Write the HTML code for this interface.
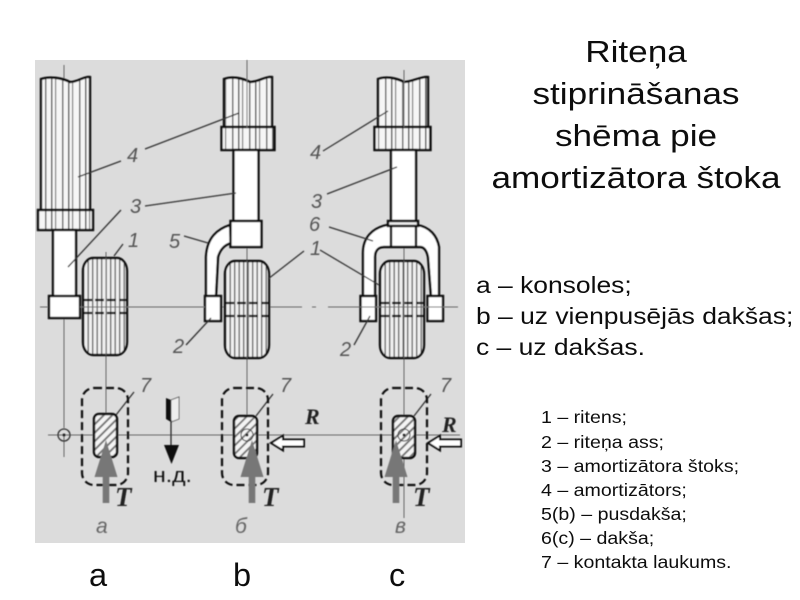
<!DOCTYPE html>
<html><head><meta charset="utf-8"><style>
html,body{margin:0;padding:0;background:#fff;width:800px;height:600px;overflow:hidden}
svg{display:block}
.s{font-family:"Liberation Sans",sans-serif;fill:#111}
.n{font-family:"Liberation Sans",sans-serif;font-style:italic;fill:#555;font-size:20px}
.t{font-family:"Liberation Serif",serif;font-style:italic;font-weight:bold;fill:#222;font-size:27px}
</style></head><body>
<svg width="800" height="600" viewBox="0 0 800 600" xmlns="http://www.w3.org/2000/svg">
<defs>
<filter id="b" x="-2%" y="-2%" width="104%" height="104%"><feGaussianBlur stdDeviation="0.45"/></filter>
<filter id="bt" x="-2%" y="-2%" width="104%" height="104%"><feGaussianBlur stdDeviation="0.3"/></filter>
<pattern id="v" width="17" height="10" patternUnits="userSpaceOnUse"><rect width="17" height="10" fill="#f6f6f6"/><rect x="0" width="1.500" height="10" fill="#555"/><rect x="4" width="1.200" height="10" fill="#777"/><rect x="11" width="1.500" height="10" fill="#666"/></pattern>
<pattern id="w" width="4.500" height="10" patternUnits="userSpaceOnUse"><rect width="4.500" height="10" fill="#f0f0f0"/><rect x="0" width="1.300" height="10" fill="#555"/></pattern>
<pattern id="h" width="6" height="6" patternUnits="userSpaceOnUse" patternTransform="rotate(45)"><rect width="6" height="6" fill="#f4f4f4"/><rect width="2" height="6" fill="#777"/></pattern>
<g id="wheel"><rect x="0" y="0" width="44" height="97" rx="10" ry="13" fill="url(#w)" stroke="#111" stroke-width="2.400"/>
<path d="M0 42H44M0 55H44" stroke="#111" stroke-width="2.200" stroke-dasharray="9 3" fill="none"/></g>
<g id="arrow"><path d="M-3.300 63V37H-11.500L0 0L11.500 37H3.300V63Z" fill="#777"/></g>
<g id="hol"><path d="M0 0L12 -7.500V-3.500H33V3.500H12V7.500Z" fill="#fff" stroke="#111" stroke-width="2"/></g>
</defs>
<rect width="800" height="600" fill="#fff"/>
<rect x="35" y="60" width="430" height="483" fill="#dcdcdc"/>

<g filter="url(#b)">
<!-- centre lines -->
<g stroke="#666" stroke-width="1" fill="none">
<path d="M64 65V428"/><path d="M40 307H157M167 307H170M180 307H302M312 307H316M328 307H458"/>
<path d="M106 252V414"/><path d="M247 60V470"/><path d="M404 70V518"/>
<path d="M48 435H460"/><path d="M64 435V457"/>
</g>

<!-- a -->
<g stroke="#111" stroke-width="2.400">
<path d="M41 79C50 76 62 78 70 82C78 82 84 76 90 77V210H41Z" fill="url(#v)"/>
<rect x="38" y="210" width="55" height="20" fill="url(#v)"/>
<rect x="53" y="230" width="23" height="67" fill="#fff"/>
<rect x="49" y="296" width="31" height="22" fill="#fff"/>
</g>
<use href="#wheel" x="83" y="258"/>

<!-- b -->
<g stroke="#111" stroke-width="2.400">
<path d="M224 79C232 76 242 78 250 82C258 82 266 76 272 77V127H224Z" fill="url(#v)"/>
<rect x="221.500" y="127" width="53" height="23" fill="url(#v)"/>
<rect x="233.500" y="150" width="25" height="71" fill="#fff"/>
<path d="M230 225C218 229 207 237 206 257V296H216L218 257C220 250 224 245 231 243Z" fill="#fff"/>
<rect x="230.500" y="221" width="31" height="26" fill="#fff"/>
<rect x="205" y="296" width="16" height="25" fill="#fff"/>
</g>
<use href="#wheel" x="225" y="261"/>

<!-- c -->
<g stroke="#111" stroke-width="2.400">
<path d="M378 79C386 76 396 78 404 82C412 82 422 76 428 77V127H378Z" fill="url(#v)"/>
<rect x="374.500" y="127" width="56" height="23" fill="url(#v)"/>
<rect x="391" y="150" width="25" height="71" fill="#fff"/>
<path d="M387 225C372 228 363 238 363 253V296H375V257C375 251 378 247 384 247H420C425 247 427 252 428 257L431 296H439L439 247C437 236 430 227 417 225Z" fill="#fff"/>
<path d="M391 225V247M416 225V247" fill="none"/>
<rect x="388" y="221" width="30" height="5" fill="#eee"/>
<rect x="360.500" y="296" width="15.500" height="25" fill="#fff"/>
<rect x="427.500" y="296" width="15.500" height="25" fill="#fff"/>
</g>
<use href="#wheel" x="380" y="261"/>
<g stroke="#666" stroke-width="1"><path d="M247 60V128M404 70V127M106 258V355M247 261V358M404 261V358M40 307H48M80 307H205M360 307H458"/></g>

<!-- leaders -->
<g stroke="#333" stroke-width="1.300" fill="none">
<path d="M78 177L121 161M145 149L239 113"/>
<path d="M68 267L121 210M145 206L236 193"/>
<path d="M114 256L123 244"/>
<path d="M184 236L208 243"/><path d="M186 345L211 318"/>
<path d="M268 279L304 251"/>
<path d="M323 151L388 111"/><path d="M327 194L397 167"/>
<path d="M329 227L373 241"/><path d="M320 250L379 285"/>
<path d="M354 345L370 316"/>
<path d="M116 415L134 392M256 416L273 394M414 416L431 394"/>
</g>

<!-- numbers -->
<g class="n">
<text x="127" y="162">4</text><text x="130" y="213">3</text><text x="128" y="247">1</text>
<text x="169" y="248">5</text><text x="173" y="353">2</text>
<text x="310" y="159">4</text><text x="311" y="208">3</text><text x="309" y="231">6</text><text x="310" y="255">1</text><text x="340" y="356">2</text>
<text x="140" y="392">7</text><text x="280" y="392">7</text><text x="440" y="392">7</text>
</g>

<!-- circle -->
<circle cx="64" cy="435" r="6" fill="none" stroke="#333" stroke-width="1.300"/><circle cx="64" cy="435" r="1.500" fill="#222"/>

<!-- contact patches -->
<g fill="none" stroke="#111" stroke-width="2.200" stroke-dasharray="8 4">
<rect x="82" y="388" width="46" height="97" rx="12"/>
<rect x="222" y="388" width="46" height="97" rx="12"/>
<rect x="381" y="388" width="46" height="97" rx="12"/>
</g>
<g stroke="#111" stroke-width="2.400" fill="url(#h)">
<rect x="94" y="414" width="23" height="43" rx="5"/>
<rect x="234" y="416" width="23" height="42" rx="5"/>
<rect x="393" y="416" width="22" height="42" rx="5"/>
</g>
<circle cx="247" cy="435" r="6" fill="none" stroke="#333"/><circle cx="247" cy="435" r="1.500" fill="#222"/>
<circle cx="404" cy="435" r="6" fill="none" stroke="#333"/><circle cx="404" cy="435" r="1.500" fill="#222"/>
<use href="#arrow" x="106" y="440"/><use href="#arrow" x="252" y="440"/><use href="#arrow" x="396" y="440"/>
<use href="#hol" x="271" y="443"/><use href="#hol" x="428" y="443"/>

<!-- direction -->
<path d="M166 398L171 400V422L166 419Z" fill="#111"/><path d="M171 400L179 397V419L171 422Z" fill="#eee" stroke="#444" stroke-width=".8"/>
<path d="M171 420V446" stroke="#222" stroke-width="1.300"/><path d="M164 445H179L171.500 464Z" fill="#111"/>
<text class="s" transform="translate(153 482) scale(1.150 1)" font-size="20">н.д.</text>

<text class="t" x="115" y="506">T</text><text class="t" x="262" y="506">T</text><text class="t" x="413" y="506">T</text>
<text class="t" x="305" y="424" style="font-size:22px">R</text><text class="t" x="442" y="432" style="font-size:22px">R</text>
<g font-family="Liberation Sans,sans-serif" font-style="italic" fill="#666" font-size="21">
<text x="96" y="533">а</text><text x="235" y="533">б</text><text x="395" y="533">в</text></g>
</g>

<!-- labels -->
<g filter="url(#bt)">
<g class="s" font-size="32.500">
<text x="89" y="586">a</text><text x="233" y="586">b</text><text x="389" y="586">c</text></g>
<g class="s" font-size="31" text-anchor="middle">
<text transform="translate(636 62) scale(1.134 1)">Riteņa</text>
<text transform="translate(636 104) scale(1.134 1)">stiprināšanas</text>
<text transform="translate(636 146) scale(1.134 1)">shēma pie</text>
<text transform="translate(636 188) scale(1.134 1)">amortizātora štoka</text></g>
<g class="s" font-size="23.500">
<text transform="translate(476 293) scale(1.125 1)">a – konsoles;</text>
<text transform="translate(476 324) scale(1.125 1)">b – uz vienpusējās dakšas;</text>
<text transform="translate(476 355) scale(1.125 1)">c – uz dakšas.</text></g>
<g class="s" font-size="17.500">
<text transform="translate(541 423) scale(1.120 1)">1 – ritens;</text>
<text transform="translate(541 448) scale(1.120 1)">2 – riteņa ass;</text>
<text transform="translate(541 472) scale(1.120 1)">3 – amortizātora štoks;</text>
<text transform="translate(541 496) scale(1.120 1)">4 – amortizātors;</text>
<text transform="translate(541 520) scale(1.120 1)">5(b) – pusdakša;</text>
<text transform="translate(541 544) scale(1.120 1)">6(c) – dakša;</text>
<text transform="translate(541 568) scale(1.120 1)">7 – kontakta laukums.</text></g>
</g>
</svg>
</body></html>
